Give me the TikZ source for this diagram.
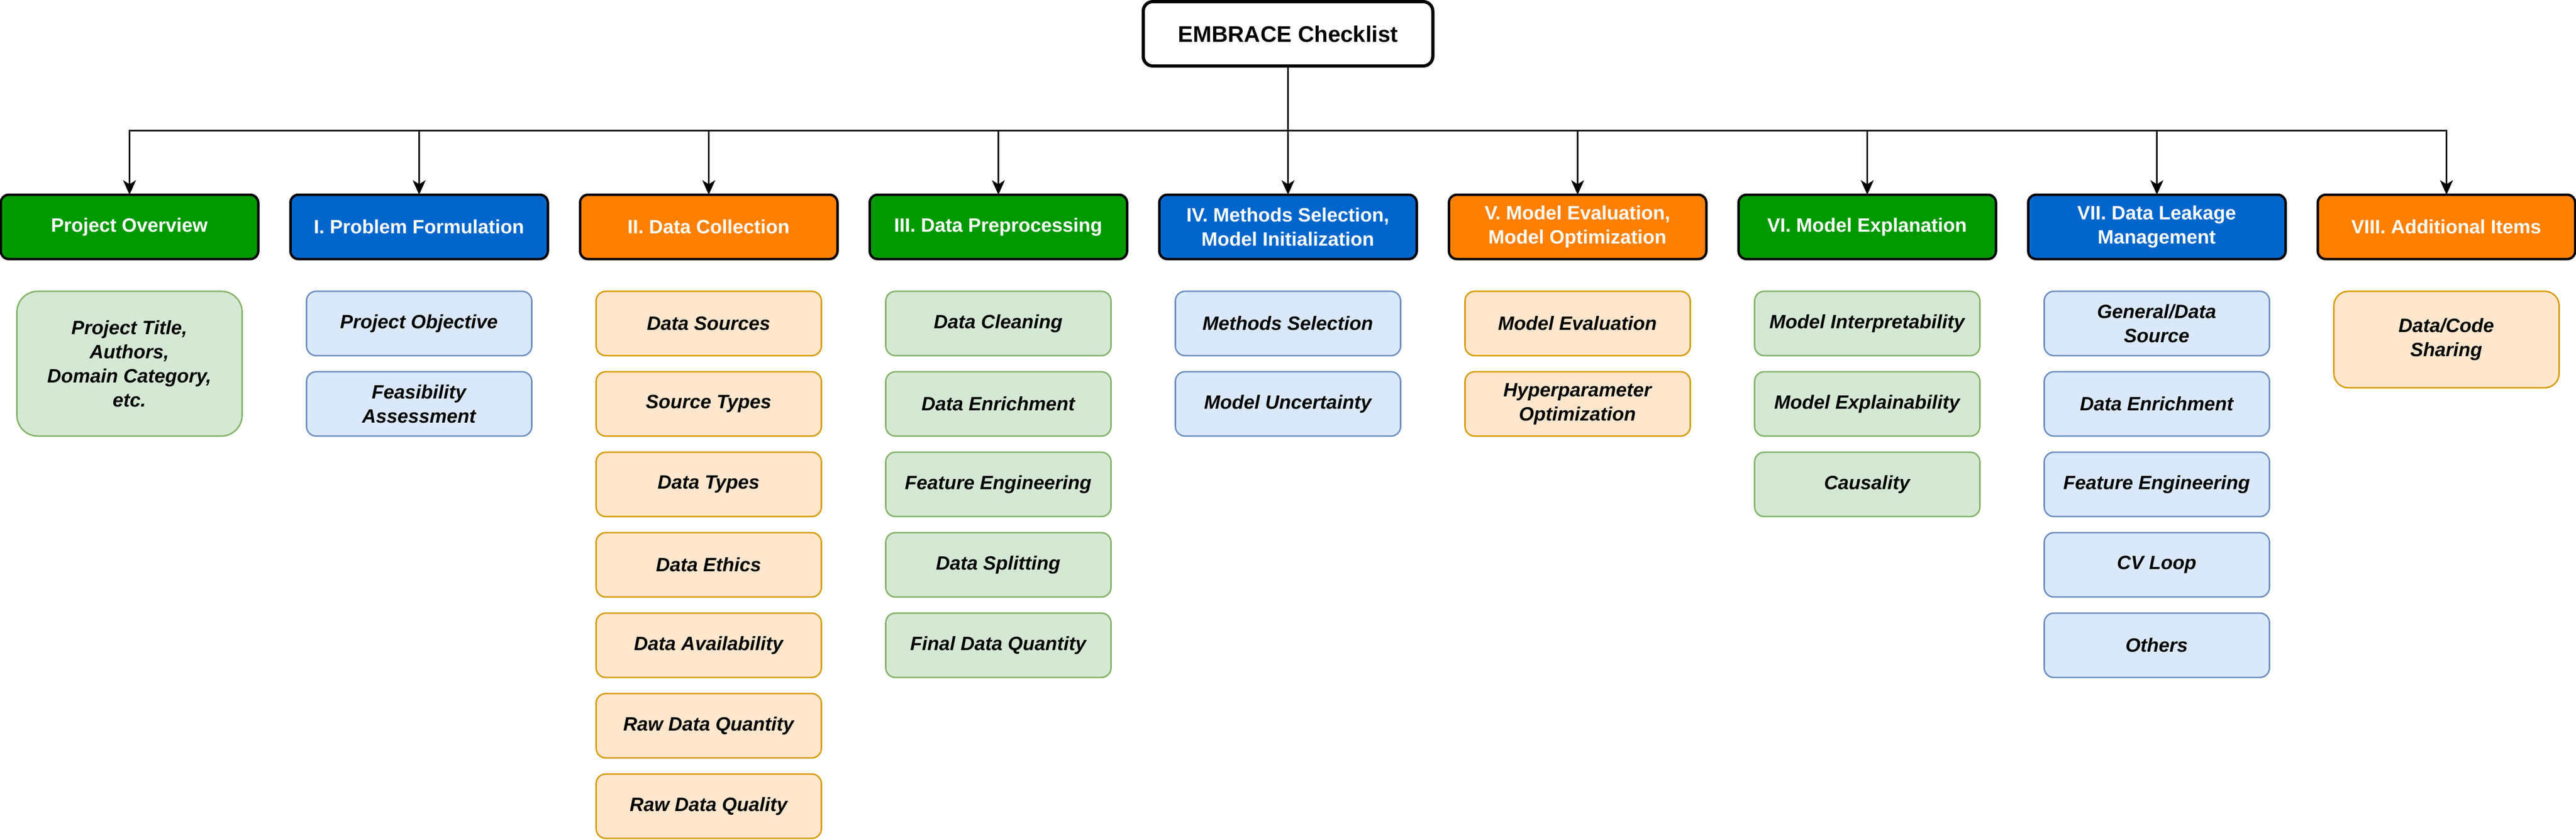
\documentclass[tikz,border=0pt]{standalone}
\usepackage{fontspec}
\setmainfont{Liberation Sans}
\usepackage{xcolor}
\usetikzlibrary{positioning,arrows.meta}

\definecolor{hgreen}{HTML}{009900}
\definecolor{hblue}{HTML}{0066CC}
\definecolor{horange}{HTML}{FF8000}
\definecolor{gline}{HTML}{82B366}
\definecolor{gfill}{HTML}{D5E8D4}
\definecolor{bline}{HTML}{6C8EBF}
\definecolor{bfill}{HTML}{DAE8FC}
\definecolor{oline}{HTML}{D79B00}
\definecolor{ofill}{HTML}{FFE6CC}

\begin{document}
\begin{tikzpicture}[x=1pt,y=1pt,
    root/.style={draw=black,line width=2pt,rounded corners=6pt,fill=white,minimum width=180pt,minimum height=40pt,inner sep=0pt,outer sep=0pt,font=\bfseries\fontsize{14}{17}\selectfont},
    head/.style={draw=black,line width=1.5pt,rounded corners=5pt,minimum width=160pt,minimum height=40pt,inner sep=0pt,outer sep=0pt,text=white,align=center,font=\bfseries\fontsize{12}{15}\selectfont},
    item/.style={line width=0.9pt,rounded corners=6pt,minimum width=140pt,minimum height=40pt,inner sep=0pt,outer sep=0pt,anchor=north,align=center,font=\bfseries\itshape\fontsize{12}{15}\selectfont},
    gitem/.style={item,draw=gline,fill=gfill},
    bitem/.style={item,draw=bline,fill=bfill},
    oitem/.style={item,draw=oline,fill=ofill},
    conn/.style={line width=1pt,-{Stealth[length=9pt,width=8pt,inset=2.5pt]}}
]
    \useasboundingbox (0,0) rectangle (1601,-522);
    % Root
    \node[root] (root) at (800.5,-21) {EMBRACE Checklist};
    \coordinate (bar) at (0,-81.3);
    % Headers
    \foreach \i/\col/\txt in {0/hgreen/{Project Overview},
                              1/hblue/{I. Problem Formulation},
                              2/horange/{II. Data Collection},
                              3/hgreen/{III. Data Preprocessing},
                              4/hblue/{IV. Methods Selection,\\Model Initialization},
                              5/horange/{V. Model Evaluation,\\Model Optimization},
                              6/hgreen/{VI. Model Explanation},
                              7/hblue/{VII. Data Leakage\\Management},
                              8/horange/{VIII. Additional Items}}{
        \node[head,fill=\col] (h\i) at (80.5+180*\i,-141) {\txt};
        \draw[conn] (root.south) -- (root.south |- bar) -| (h\i.north);
    }
    % Project Overview
    \node[gitem,minimum height=90pt,rounded corners=13pt] (po1) at ([yshift=-20] h0.south) {Project Title,\\Authors,\\Domain Category,\\etc.};
    % I. Problem Formulation
    \foreach \t [count=\k] in {Project Objective, {Feasibility\\Assessment}}
        \node[bitem] (pf\k) at ([yshift={-20-50*(\k-1)}] h1.south) {\t};
    % II. Data Collection
    \foreach \t [count=\k] in {Data Sources, Source Types, Data Types, Data Ethics,
                               Data Availability, Raw Data Quantity, Raw Data Quality}
        \node[oitem] (dc\k) at ([yshift={-20-50*(\k-1)}] h2.south) {\t};
    % III. Data Preprocessing
    \foreach \t [count=\k] in {Data Cleaning, Data Enrichment, Feature Engineering,
                               Data Splitting, Final Data Quantity}
        \node[gitem] (dp\k) at ([yshift={-20-50*(\k-1)}] h3.south) {\t};
    % IV. Methods Selection
    \foreach \t [count=\k] in {Methods Selection, Model Uncertainty}
        \node[bitem] (ms\k) at ([yshift={-20-50*(\k-1)}] h4.south) {\t};
    % V. Model Evaluation
    \foreach \t [count=\k] in {Model Evaluation, {Hyperparameter\\Optimization}}
        \node[oitem] (me\k) at ([yshift={-20-50*(\k-1)}] h5.south) {\t};
    % VI. Model Explanation
    \foreach \t [count=\k] in {Model Interpretability, Model Explainability, Causality}
        \node[gitem] (mx\k) at ([yshift={-20-50*(\k-1)}] h6.south) {\t};
    % VII. Data Leakage
    \foreach \t [count=\k] in {{General/Data\\Source}, Data Enrichment, Feature Engineering,
                               CV Loop, Others}
        \node[bitem] (dl\k) at ([yshift={-20-50*(\k-1)}] h7.south) {\t};
    % VIII. Additional Items
    \node[oitem,minimum height=60pt,rounded corners=9pt] (ai1) at ([yshift=-20] h8.south) {Data/Code\\Sharing};
\end{tikzpicture}
\end{document}
